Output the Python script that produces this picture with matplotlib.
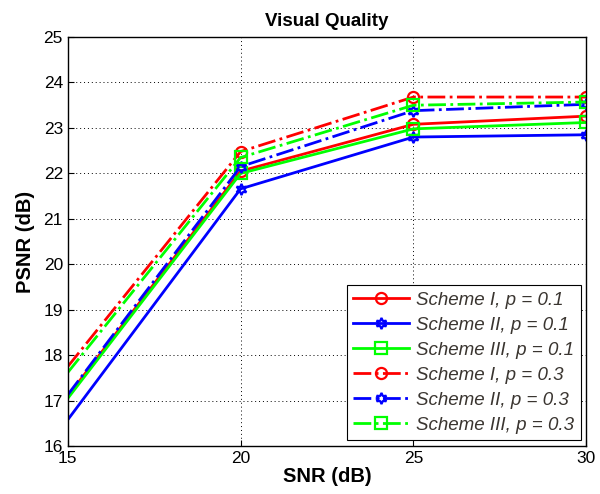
import matplotlib
matplotlib.use("Agg")
import matplotlib.pyplot as plt

snr = [15, 20, 25, 30]

# PSNR (dB) per scheme
s1_p1 = [17.10, 22.05, 23.08, 23.26]
s2_p1 = [16.58, 21.66, 22.80, 22.85]
s3_p1 = [17.05, 22.00, 22.98, 23.12]
s1_p3 = [17.75, 22.48, 23.68, 23.68]
s2_p3 = [17.13, 22.15, 23.38, 23.52]
s3_p3 = [17.62, 22.35, 23.50, 23.57]

labels = [
    "Scheme I, p = 0.1", "Scheme II, p = 0.1", "Scheme III, p = 0.1",
    "Scheme I, p = 0.3", "Scheme II, p = 0.3", "Scheme III, p = 0.3",
]

plt.rcParams["font.family"] = ["Liberation Sans", "DejaVu Sans"]

fig = plt.figure(figsize=(6.0, 4.94), dpi=100)
ax = fig.add_axes([0.113, 0.097, 0.864, 0.828])

star6 = (6, 1, 0)
styles = [
    ("#ff0000", "o", "-"),
    ("#0000ff", star6, "-"),
    ("#00ff00", "s", "-"),
    ("#ff0000", "o", "-."),
    ("#0000ff", star6, "-."),
    ("#00ff00", "s", "-."),
]
series = [s1_p1, s2_p1, s3_p1, s1_p3, s2_p3, s3_p3]

for ys, lab, (c, m, ls) in zip(series, labels, styles):
    # no marker shows at the left edge in the original
    ax.plot(snr, ys, color=c, linestyle=ls, linewidth=2.0, marker=m,
            markersize=8, markerfacecolor="none", markeredgewidth=1.6,
            markevery=[1, 2, 3], label=lab)

ax.set_xlim(15, 30)
ax.set_ylim(16, 25)
ax.set_xticks([15, 20, 25, 30])
ax.set_yticks(range(16, 26))
ax.grid(True, color="black", linestyle=(0, (1, 3)), linewidth=0.7)
ax.tick_params(direction="in", labelsize=12.5, length=4, colors="black")
for sp in ax.spines.values():
    sp.set_linewidth(1.0)

ax.set_title("Visual Quality", fontsize=13.5, fontweight="bold", pad=8)
ax.set_xlabel("SNR (dB)", fontsize=14.5, fontweight="bold", labelpad=1)
ax.set_ylabel("PSNR (dB)", fontsize=14.5, fontweight="bold", labelpad=6)

leg = ax.legend(loc="lower right", fontsize=13.5, handlelength=3.0,
                borderpad=0.35, labelspacing=0.42, handletextpad=0.35,
                borderaxespad=0.3, fancybox=False, framealpha=1,
                edgecolor="black")
leg.get_frame().set_linewidth(0.8)
for t in leg.get_texts():
    t.set_fontstyle("italic")
    t.set_color("#3a3530")

fig.savefig("out.png", dpi=100)
